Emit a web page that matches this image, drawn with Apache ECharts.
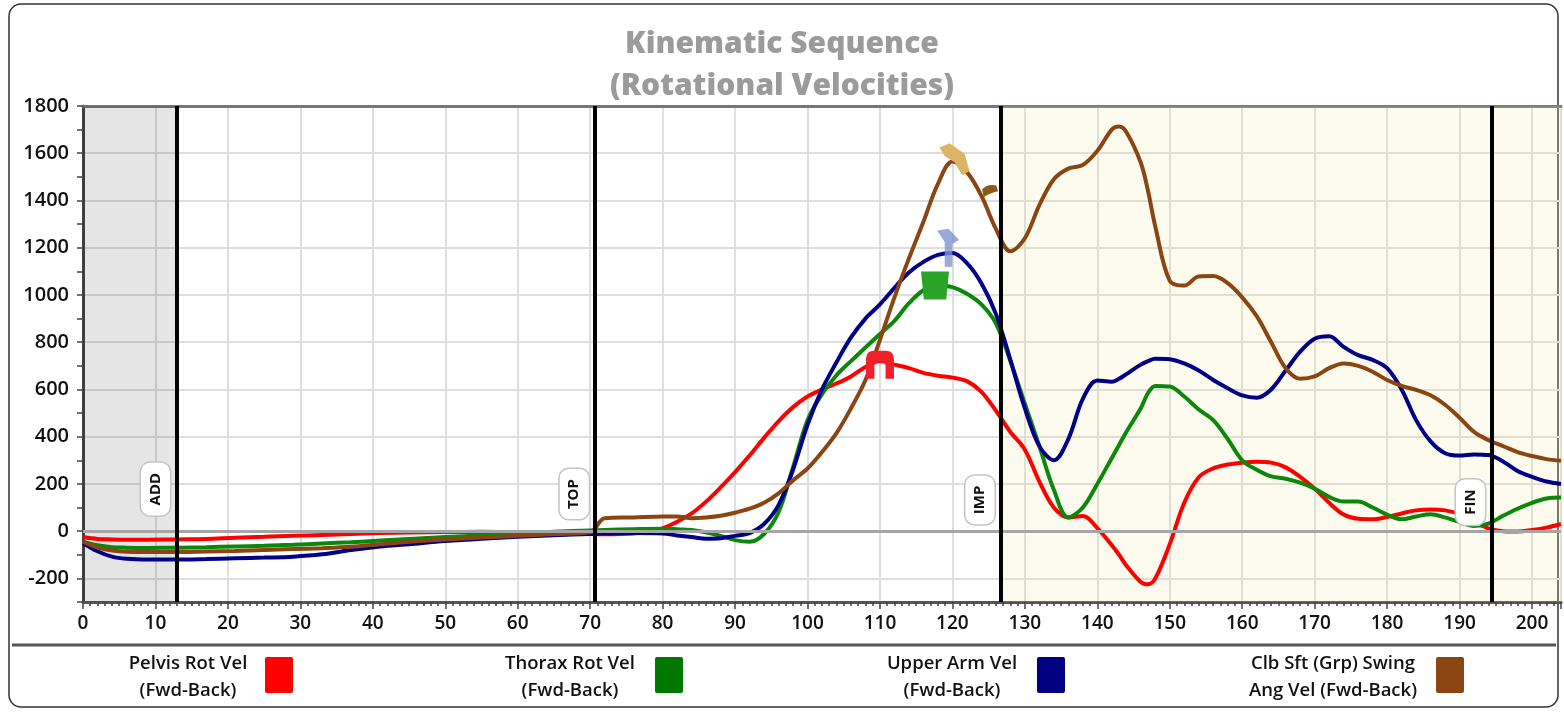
<!DOCTYPE html>
<html>
<head>
<meta charset="utf-8">
<script src="https://cdn.jsdelivr.net/npm/echarts@6/dist/echarts.min.js"></script>
<style>
  html, body { margin: 0; padding: 0; background: #ffffff; }
  #chart { width: 1564px; height: 712px; }
</style>
</head>
<body>
<div id="chart"></div>
<script>
// frame numbers (x) shared by all four curves
const frames = [0,2,4,6,9,13,17,21,25,29, 33,37,41,45,50,55,60,65,70,72, 76,80,82,84,86,88,90,92,94,96,
  98,100,102,104,106,108,110,112,114,116, 118,120,122,124,126,128,130,132,134,136,
  138,140,142,143,144,146,147,148,150,152, 154,156,158,160,162,164,166,168,170,172,
  174,176,178,180,182,184,186,188,190,192, 194,196,198,200,202,204];

const pelvis = [-25,-33,-35,-36,-36,-35,-33,-28,-24,-20, -16,-12,-8,-6,-4,-3,-5,-8,-12,-13,
  -10,12,40,75,125,185,250,320,395,465, 525,570,600,625,655,695,720,705,690,670,
  658,650,635,590,510,420,345,210,100,58, 64,13,-60,-100,-145,-215,-225,-200,-55,120,
  228,266,282,290,294,290,270,230,180,120, 70,52,50,60,75,88,92,88,72,40, 12,0,-2,5,15,30];

const thorax = [-45,-60,-68,-70,-71,-70,-68,-65,-62,-58, -52,-47,-40,-33,-25,-18,-10,-3,3,5,
  8,10,8,5,-5,-20,-38,-45,-12,80, 270,470,580,660,720,778,835,890,965,1020,
  1040,1033,1005,960,880,720,540,360,175,58, 100,200,310,365,420,520,585,615,612,570,
  515,470,390,300,260,232,222,205,180,145, 125,125,100,70,50,62,72,58,38,22, 32,65,95,120,138,142];

const upperArm = [-50,-85,-108,-117,-120,-120,-118,-115,-112,-108, -98,-80,-65,-55,-42,-32,-24,-17,-12,-10,
  -8,-10,-18,-25,-32,-30,-20,-8,30,110, 260,450,600,715,820,900,960,1030,1095,1140,
  1170,1178,1135,1050,920,725,520,360,300,390, 560,638,632,645,665,705,720,730,728,710,
  680,640,605,575,565,600,680,760,815,825, 780,745,725,690,600,470,380,330,320,325, 322,295,255,230,210,200];

const club = [-45,-70,-82,-87,-88,-88,-86,-84,-80,-76, -72,-66,-55,-45,-35,-27,-20,-12,-5,55,
  58,62,62,55,58,65,78,95,120,160, 215,265,335,415,520,640,810,990,1155,1310,
  1470,1565,1520,1420,1280,1185,1240,1380,1490,1535, 1550,1610,1700,1713,1690,1560,1440,1290,1060,1040,
  1078,1080,1050,990,910,800,690,645,655,690, 710,700,675,640,615,598,575,535,480,420, 385,360,335,318,305,298];

const seriesNames = ['Pelvis Rot Vel\n(Fwd-Back)', 'Thorax Rot Vel\n(Fwd-Back)', 'Upper Arm Vel\n(Fwd-Back)', 'Clb Sft (Grp) Swing\nAng Vel (Fwd-Back)'];
const lineColors = ['#ff0000', '#0b870b', '#000088', '#8b4513'];
const legendColors = ['#ff0000', '#007700', '#000080', '#8b4513'];

// swing events
const eventNames = ['ADD', 'TOP', 'IMP', 'FIN'];
const eventFrames = [12.9, 70.7, 126.7, 194.4];
const eventLabelY = [178, 157, 132, 123];

// axis range
const xMax = 204;
const yMin = -300;
const yMax = 1800;

// peak markers
const peakFrames = [110, 117.6, 119.4, 120.3];
const peakValues = [705, 1040, 1200, 1575];
const peakColors = ['#f0202a', '#2aa52a', '#8093d0', '#dcb468'];
const peakShapes = [
  'path://M0,30 L0,9 Q0,0 9,0 L21,0 Q30,0 30,9 L30,30 L21,30 L21,15 Q15,9 9,15 L9,30 Z',
  'path://M0,0 L30,0 L27,30 L3,30 Z',
  'path://M9,40 L9,14 L1,2 L13,0 L24,12 L17,16 L17,40 Z',
  'path://M2,4 L10,0 L22,10 L26,26 L20,30 L14,18 L6,12 Z'
];

const legendCenters = [188, 570, 952, 1333];
const legendBoxX = [265, 655, 1037, 1436];

function pairs(values) {
  return frames.map((f, i) => [f, values[i]]);
}

// shaded phase band, filled from the top of the axis down to its start
function band(from, to, color) {
  return {
    type: 'line',
    silent: true,
    z: 1,
    showSymbol: false,
    data: [[from, yMax], [to, yMax]],
    lineStyle: { width: 0 },
    areaStyle: { color: color, origin: 'start', opacity: 1 }
  };
}

const chart = echarts.init(document.getElementById('chart'));

const curves = [pelvis, thorax, upperArm, club].map((vals, i) => ({
  name: seriesNames[i],
  type: 'line',
  data: pairs(vals),
  smooth: 0.35,
  showSymbol: false,
  z: 4,
  lineStyle: { color: lineColors[i], width: 4 },
  itemStyle: { color: lineColors[i] },
  markPoint: {
    silent: true,
    symbol: peakShapes[i],
    symbolSize: i === 2 ? [22, 38] : (i === 3 ? [30, 32] : [28, 28]),
    itemStyle: { color: peakColors[i], opacity: i === 2 ? 0.8 : 1 },
    label: { show: false },
    data: [{ coord: [peakFrames[i], peakValues[i]] }]
  }
}));

// little club head drawn beside the club-speed peak
curves[3].markPoint.data.push({
  coord: [125.2, 1440],
  symbol: 'path://M0,6 Q6,0 16,2 L18,8 Q8,10 2,14 Z',
  symbolSize: [16, 12],
  itemStyle: { color: '#8b5a1a' }
});

const option = {
  animation: false,
  title: {
    text: 'Kinematic Sequence\n(Rotational Velocities)',
    left: 'center',
    top: 18,
    textStyle: { fontFamily: 'Open Sans', fontSize: 30, fontWeight: 800, color: '#9b9b9b', lineHeight: 42 }
  },
  grid: { left: 83, right: 2, top: 106, bottom: 110 },
  xAxis: [{
    type: 'value',
    min: 0, max: xMax, interval: 10,
    axisLine: { onZero: false, lineStyle: { color: '#555', width: 3 } },
    axisTick: { length: 7, lineStyle: { color: '#444', width: 1.5 } },
    minorTick: { show: true, splitNumber: 10, length: 4, lineStyle: { color: '#444', width: 1.5 } },
    axisLabel: {
      margin: 12, fontFamily: 'Open Sans', fontSize: 19, fontWeight: 600, color: '#111',
      formatter: v => (v % 10 === 0 && v <= 200) ? String(v) : ''
    },
    splitLine: { show: true, lineStyle: { color: '#dedede', width: 2 } }
  }, {
    type: 'value', position: 'top', min: 0, max: xMax,
    axisLine: { show: true, onZero: false, lineStyle: { color: '#777', width: 3 } },
    axisTick: { show: false }, axisLabel: { show: false }, splitLine: { show: false }
  }],
  yAxis: {
    type: 'value',
    min: yMin, max: yMax, interval: 100,
    axisLine: { show: true, onZero: false, lineStyle: { color: '#444', width: 3 } },
    axisTick: { show: true, length: 6, lineStyle: { color: '#444', width: 1.5 } },
    axisLabel: {
      margin: 14, fontFamily: 'Open Sans', fontSize: 20, fontWeight: 600, color: '#111',
      formatter: v => (v % 200 === 0) ? String(v) : ''
    },
    splitLine: { show: true, lineStyle: { color: ['transparent', '#dedede'], width: 2 } }
  },
  series: [
    band(0, eventFrames[0], 'rgba(0,0,0,0.1)'),
    band(eventFrames[2], xMax, 'rgba(240,228,140,0.16)'),
    {
      name: 'events',
      type: 'line',
      data: [],
      z: 3,
      markLine: {
        silent: true,
        symbol: 'none',
        label: { show: false },
        data: [
          { yAxis: 0, lineStyle: { color: '#a6a6a6', width: 3, type: 'solid' } }
        ].concat(eventFrames.map(f => ({ xAxis: f, lineStyle: { color: '#000', width: 4, type: 'solid' } })))
      },
      markPoint: {
        silent: true,
        symbol: 'circle',
        symbolSize: 1,
        itemStyle: { color: 'transparent' },
        label: {
          show: true,
          formatter: '{b}',
          rotate: 90,
          offset: [0, -21],
          fontFamily: 'Open Sans', fontWeight: 'bold', fontSize: 15, color: '#111',
          backgroundColor: '#fff',
          borderColor: '#c4c4c4', borderWidth: 1.5, borderRadius: 9,
          padding: [8, 10, 6, 10]
        },
        data: eventNames.map((n, i) => ({ name: n, coord: [eventFrames[i], eventLabelY[i]] }))
      }
    }
  ].concat(curves),
  graphic: [
    { type: 'rect', silent: true, shape: { x: 9, y: 4, width: 1549, height: 703, r: 12 },
      style: { fill: 'none', stroke: '#333', lineWidth: 1.5 } },
    { type: 'line', silent: true, shape: { x1: 12, y1: 645, x2: 1556, y2: 645 },
      style: { stroke: '#555', lineWidth: 3 } }
  ].concat(seriesNames.map((n, i) => ({
    type: 'text', silent: true, x: legendCenters[i], y: 677,
    style: { text: n, align: 'center', verticalAlign: 'middle', fontFamily: 'Open Sans',
      fontSize: 18.5, fontWeight: 600, lineHeight: 27, fill: '#111' }
  }))).concat(legendColors.map((c, i) => ({
    type: 'rect', silent: true, shape: { x: legendBoxX[i], y: 657, width: 28, height: 36, r: 2 },
    style: { fill: c }
  })))
};

chart.setOption(option);
</script>
</body>
</html>
